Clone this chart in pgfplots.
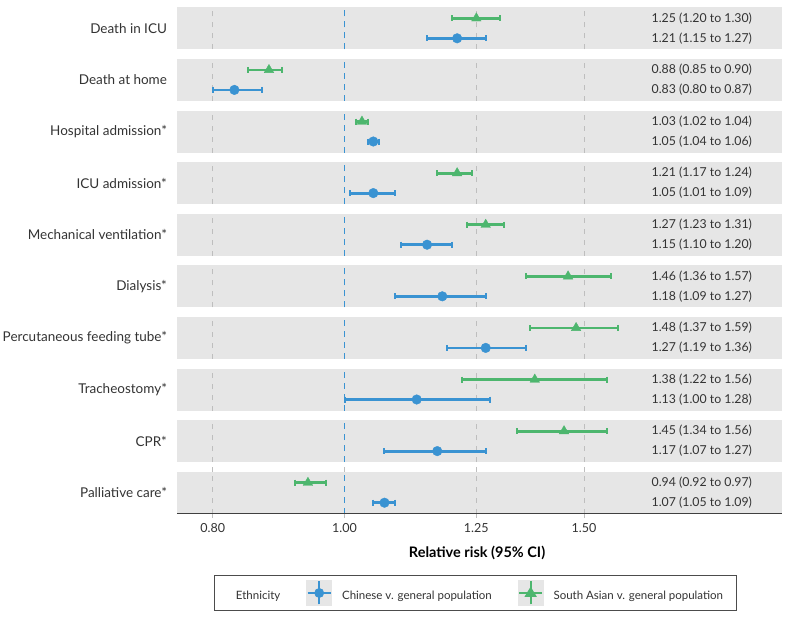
\documentclass[border=0pt]{standalone}
\usepackage{pgfplots}
\pgfplotsset{compat=1.18}
\usepackage{fontspec}
\setmainfont{Lato}
\setsansfont{Lato}
\definecolor{cblue}{RGB}{58,147,210}
\definecolor{sgreen}{RGB}{77,182,110}
\definecolor{panelbg}{RGB}{230,230,230}
\definecolor{gridc}{RGB}{190,190,190}
\definecolor{txt}{RGB}{51,51,51}
\pgfplotsset{
  myfpanel/.style={
    anchor=north west, scale only axis, width=605pt, height=42pt,
    xmin=0.7533, xmax=2.097, ymin=-0.55, ymax=1.55,
    axis background/.style={fill=panelbg},
    axis line style={draw=none},
    xtick={0.8,1.25,1.5}, xticklabels={}, xmajorgrids,
    major grid style={gridc, line width=1.1pt, dash pattern=on 5pt off 6pt},
    xtick style={draw=none},
    ytick={0.5}, ytick style={draw=none},
    yticklabel style={anchor=east, xshift=-6.5pt, text=txt, font=\fontsize{13.5}{16}\selectfont},
    clip=false,
  },
  myci/.style={forget plot, line width=2.8pt, mark=|, mark size=3pt, mark options={line width=2pt, solid}},
}
\newcommand{\forestrows}[6]{%
  \addplot[forget plot, cblue, line width=1.5pt, dash pattern=on 6pt off 5pt] coordinates {(1,-0.55) (1,1.55)};
  \addplot[sgreen, myci] coordinates {(#2,1) (#3,1)};
  \addplot[forget plot, sgreen, only marks, mark=triangle*, mark size=5.5pt] coordinates {(#1,1)};
  \addplot[cblue, myci] coordinates {(#5,0) (#6,0)};
  \addplot[forget plot, cblue, only marks, mark=*, mark size=4.8pt] coordinates {(#4,0)};
  \node[anchor=east, text=txt, font=\fontsize{12.3}{15}\selectfont] at (rel axis cs:0.9562,0.738) {#1 (#2 to #3)};
  \node[anchor=east, text=txt, font=\fontsize{12.3}{15}\selectfont] at (rel axis cs:0.9562,0.262) {#4 (#5 to #6)};
}
\begin{document}
\begin{tikzpicture}
\path[use as bounding box] (0pt,0pt) rectangle (789pt,-618pt);
\begin{semilogxaxis}[myfpanel, at={(177pt,-7.3pt)}, yticklabels={Death in ICU}]
\forestrows{1.25}{1.20}{1.30}{1.21}{1.15}{1.27}
\end{semilogxaxis}
\begin{semilogxaxis}[myfpanel, at={(177pt,-58.9pt)}, yticklabels={Death at home}]
\forestrows{0.88}{0.85}{0.90}{0.83}{0.80}{0.87}
\end{semilogxaxis}
\begin{semilogxaxis}[myfpanel, at={(177pt,-110.5pt)}, yticklabels={Hospital admission*}]
\forestrows{1.03}{1.02}{1.04}{1.05}{1.04}{1.06}
\end{semilogxaxis}
\begin{semilogxaxis}[myfpanel, at={(177pt,-162.1pt)}, yticklabels={ICU admission*}]
\forestrows{1.21}{1.17}{1.24}{1.05}{1.01}{1.09}
\end{semilogxaxis}
\begin{semilogxaxis}[myfpanel, at={(177pt,-213.7pt)}, yticklabels={Mechanical ventilation*}]
\forestrows{1.27}{1.23}{1.31}{1.15}{1.10}{1.20}
\end{semilogxaxis}
\begin{semilogxaxis}[myfpanel, at={(177pt,-265.3pt)}, yticklabels={Dialysis*}]
\forestrows{1.46}{1.36}{1.57}{1.18}{1.09}{1.27}
\end{semilogxaxis}
\begin{semilogxaxis}[myfpanel, at={(177pt,-316.9pt)}, yticklabels={Percutaneous feeding tube*}]
\forestrows{1.48}{1.37}{1.59}{1.27}{1.19}{1.36}
\end{semilogxaxis}
\begin{semilogxaxis}[myfpanel, at={(177pt,-368.5pt)}, yticklabels={Tracheostomy*}]
\forestrows{1.38}{1.22}{1.56}{1.13}{1.00}{1.28}
\end{semilogxaxis}
\begin{semilogxaxis}[myfpanel, at={(177pt,-420.1pt)}, yticklabels={CPR*}]
\forestrows{1.45}{1.34}{1.56}{1.17}{1.07}{1.27}
\end{semilogxaxis}
\begin{semilogxaxis}[myfpanel, at={(177pt,-471.7pt)}, yticklabels={Palliative care*},
  xticklabels={\mbox{0.80},\mbox{1.25},\mbox{1.50}},
  extra x ticks={1}, extra x tick labels={\mbox{1.00}},
  extra x tick style={grid=none, tick style={draw=cblue, line width=1.5pt}},
  xtick style={draw=gridc, line width=1.1pt}, xtick align=outside, major tick length=4.5pt,
  xticklabel style={anchor=base, yshift=-14.5pt, text=txt, font=\fontsize{12.5}{15}\selectfont},
  xlabel={Relative risk (95\% CI)},
  xlabel style={at={(axis description cs:0.496,-0.93)}, anchor=center, font=\bfseries\fontsize{14.5}{17}\selectfont},
  legend columns=3,
  legend style={at={(axis description cs:0.4934,-1.452)}, anchor=north, draw=black!70, line width=0.8pt,
    font=\fontsize{11.5}{14}\selectfont, text=txt, inner xsep=11.5pt, inner ysep=5pt,
    /tikz/every odd column/.append style={column sep=8pt},
    /tikz/every even column/.append style={column sep=24pt}},
]
\forestrows{0.94}{0.92}{0.97}{1.07}{1.05}{1.09}
\draw[black!75, line width=0.9pt] (rel axis cs:0,0) -- (rel axis cs:1,0);
\addlegendimage{empty legend}
\addlegendentry{Ethnicity}
\addlegendimage{legend image code/.code={
  \fill[panelbg] (0pt,-9pt) rectangle (25pt,16pt);
  \draw[cblue, line width=2.2pt] (1pt,3.5pt) -- (24pt,3.5pt);
  \draw[cblue, line width=2.2pt] (12.5pt,-8pt) -- (12.5pt,15pt);
  \fill[cblue] (12.5pt,3.5pt) circle (4.5pt);
}}
\addlegendentry{Chinese v. general population}
\addlegendimage{legend image code/.code={
  \fill[panelbg] (0pt,-9pt) rectangle (25pt,16pt);
  \draw[sgreen, line width=2.2pt] (1pt,3.5pt) -- (24pt,3.5pt);
  \draw[sgreen, line width=2.2pt] (12.5pt,-8pt) -- (12.5pt,15pt);
  \fill[sgreen] (12.5pt,9pt) -- (18pt,0pt) -- (7pt,0pt) -- cycle;
}}
\addlegendentry{South Asian v. general population}
\end{semilogxaxis}
\end{tikzpicture}
\end{document}
